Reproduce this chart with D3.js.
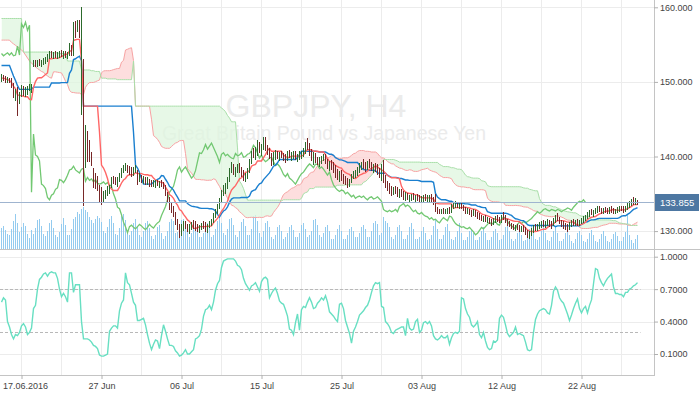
<!DOCTYPE html>
<html><head><meta charset="utf-8">
<script src="https://cdn.jsdelivr.net/npm/d3@7"></script>
<style>
body{margin:0;background:#fff;}
svg{display:block;font-family:"Liberation Sans",Arial,sans-serif;}
</style>
</head><body>
<svg id="c" width="700" height="394"></svg>
<script>
// ---- H4 bars, 15 Jun 08:00 .. 29 Aug 2016 (GBPJPY) ----
const high=[151.0,150.9,150.8,150.6,150.5,150.5,149.8,149.0,149.3,148.7,
149.6,149.5,149.3,149.4,149.7,149.7,153.0,152.9,153.0,153.1,
153.0,153.2,153.4,153.8,154.2,154.2,154.0,154.1,154.0,154.2,
154.3,154.2,154.1,154.0,155.2,155.0,158.0,158.2,158.3,158.3,
160.1,153.1,144.2,143.4,142.2,140.6,138.4,137.8,137.4,136.2,
135.9,135.4,135.5,136.0,136.2,137.2,137.4,137.2,137.3,137.8,
138.5,138.9,139.1,138.9,138.7,138.6,138.6,138.9,138.2,137.8,
137.5,137.4,137.3,137.2,137.0,136.9,136.9,136.8,136.9,136.7,
136.8,136.6,136.2,135.3,134.6,133.8,133.4,132.6,131.6,131.0,
131.0,131.3,131.4,131.0,130.9,131.2,131.5,131.3,131.0,130.8,
131.1,131.4,131.2,131.0,131.4,131.6,132.4,133.0,133.6,134.5,
135.5,136.2,136.5,137.3,138.5,139.2,139.0,138.6,139.0,139.1,
138.6,138.2,137.8,138.4,139.6,140.8,141.1,141.3,142.2,142.0,
141.7,142.6,142.6,141.6,141.2,140.5,140.6,140.9,140.8,140.6,
140.8,140.5,140.4,140.7,140.9,140.6,140.8,140.7,140.4,140.7,
140.8,141.1,142.0,142.5,141.8,141.0,140.6,140.5,140.0,139.9,
140.1,140.4,140.3,139.7,139.4,139.5,139.3,138.8,138.3,138.0,
138.2,137.7,137.4,137.1,137.0,137.6,138.0,138.2,138.6,139.1,
139.3,139.6,139.2,139.4,139.6,139.3,139.0,139.1,139.0,138.5,
139.0,139.5,137.5,136.7,136.4,136.0,135.9,136.1,135.9,135.6,
135.7,135.4,135.2,135.1,134.9,135.0,135.1,134.9,135.0,134.8,
134.7,134.9,135.0,134.8,134.9,135.0,134.6,135.0,133.2,133.0,
133.0,133.1,133.0,133.1,133.2,133.6,133.8,134.0,133.9,133.7,
133.8,133.5,133.2,133.1,133.0,132.8,132.9,132.8,132.5,132.4,
132.2,132.0,132.1,131.9,131.8,131.6,131.7,132.0,132.1,131.9,
132.2,132.5,132.1,131.6,131.3,131.1,131.0,130.8,130.9,130.8,
130.7,130.8,130.5,130.2,130.0,130.4,130.8,130.9,131.0,131.2,
131.4,131.5,131.3,131.6,131.5,131.3,131.8,132.2,132.4,131.9,
131.5,131.3,131.1,131.0,131.2,131.5,131.6,131.5,131.6,131.5,
131.8,132.0,132.2,132.5,132.8,133.0,132.8,133.1,133.3,133.4,
133.1,133.1,133.2,133.1,133.2,133.3,133.1,133.0,133.2,133.3,
133.4,133.3,133.4,133.7,134.0,134.3,134.6,134.4,134.2];
const low=[150.1,150.2,149.9,149.9,149.9,149.3,147.9,147.5,145.5,147.1,
148.1,148.2,148.0,148.3,148.8,148.6,152.0,152.0,152.1,152.2,
152.1,152.3,152.5,152.8,153.1,153.3,153.2,153.3,153.2,153.3,
153.4,153.2,153.3,153.1,153.6,153.5,153.6,156.0,156.8,156.0,
145.6,133.4,138.5,139.3,139.3,138.8,135.9,135.7,135.4,134.0,
133.5,134.0,134.4,134.8,135.0,135.8,136.4,136.2,136.0,136.6,
137.2,137.8,138.1,137.8,137.6,137.3,137.5,137.8,136.3,136.7,
136.5,136.4,136.2,136.2,136.0,136.0,136.0,135.9,136.1,135.8,
136.0,135.7,134.8,134.0,132.9,132.5,131.9,130.9,130.2,129.2,
129.4,130.1,130.3,129.9,129.7,130.2,130.4,130.1,129.9,129.8,
130.2,130.4,130.0,129.8,130.5,130.7,131.2,131.8,132.4,133.0,
133.9,134.8,135.1,135.7,136.6,137.8,137.6,137.3,137.8,137.9,
137.3,136.8,136.6,137.1,137.9,139.0,139.8,139.6,140.2,140.6,
140.1,140.9,140.8,140.3,139.7,138.8,138.9,139.6,139.7,139.5,
139.8,139.4,139.2,139.4,139.8,139.5,139.7,139.6,139.3,139.6,
139.7,140.0,140.4,140.9,140.2,139.4,138.9,139.2,138.9,138.7,
139.1,139.4,139.0,138.4,138.1,138.3,137.8,137.2,136.9,136.6,
136.8,136.4,136.2,135.9,136.0,136.5,137.0,137.2,137.5,137.9,
138.2,138.4,138.0,138.2,138.5,138.1,137.9,138.0,137.6,137.2,
136.8,136.5,135.9,135.4,135.1,134.8,134.9,135.0,134.7,134.5,
134.7,134.3,134.1,134.2,134.0,134.1,134.2,134.0,134.1,133.9,
133.8,134.0,134.1,133.9,134.0,134.0,133.6,132.6,132.4,132.3,
132.4,132.3,132.3,132.4,132.4,132.5,133.0,133.1,133.1,133.0,
133.0,132.7,132.4,132.3,132.2,132.0,132.1,132.0,131.7,131.6,
131.4,131.3,131.3,131.2,131.0,130.8,130.9,131.2,131.3,131.1,
131.2,131.6,131.2,130.8,130.6,130.4,130.2,130.1,130.2,130.0,
129.9,130.0,129.6,129.2,129.0,129.4,129.8,130.1,130.1,130.3,
130.5,130.6,130.5,130.7,130.6,130.4,130.7,131.1,131.4,131.0,
130.6,130.4,130.2,130.0,130.2,130.6,130.8,130.7,130.8,130.8,
131.0,131.2,131.4,131.7,131.9,132.2,132.0,132.3,132.5,132.6,
132.4,132.4,132.5,132.4,132.4,132.5,132.4,132.3,132.5,132.6,
132.7,132.5,132.6,132.9,133.1,133.4,133.6,133.5,133.6];
const close=[150.6,150.4,150.2,150.3,150.1,149.6,148.2,148.4,147.3,148.3,
149.2,148.6,148.9,149.0,149.1,149.4,152.6,152.4,152.8,152.5,
152.7,152.9,153.1,153.5,153.9,153.6,153.8,153.5,153.7,153.9,
153.6,153.9,153.5,153.6,154.8,153.6,157.8,157.3,158.0,156.9,
157.6,135.2,143.0,140.2,140.0,139.4,136.3,136.1,135.7,134.5,
134.2,134.8,135.0,135.6,135.8,136.9,136.8,136.5,136.9,137.5,
138.2,138.3,138.7,138.2,138.0,137.8,138.3,138.4,136.7,137.2,
136.8,137.0,136.6,136.9,136.4,136.3,136.4,136.6,136.3,136.5,
136.2,136.0,135.0,134.3,133.2,133.0,132.2,131.2,130.6,129.8,
130.6,130.8,130.5,130.3,130.6,130.9,130.7,130.4,130.2,130.5,
130.9,130.6,130.4,130.8,131.1,131.3,132.1,132.7,133.3,134.2,
135.2,135.6,136.0,137.0,138.2,138.6,137.9,138.3,138.6,138.1,
137.6,137.1,137.4,138.1,139.3,140.5,140.4,140.9,141.6,141.0,
141.4,141.8,141.2,140.6,140.0,139.2,140.3,140.5,140.1,140.3,
140.0,139.8,139.7,140.4,140.1,140.2,140.5,139.9,140.0,140.3,
140.4,140.8,141.5,141.2,140.5,139.8,140.2,139.6,139.3,139.5,
139.8,139.9,139.3,138.8,139.0,138.7,138.2,137.6,137.3,137.7,
137.1,136.9,136.6,136.3,136.8,137.3,137.7,137.9,138.3,138.7,
139.0,138.8,138.5,139.0,138.9,138.4,138.6,138.3,137.9,137.5,
137.9,136.9,136.2,135.8,135.5,135.3,135.5,135.4,135.0,135.2,
134.9,134.6,134.8,134.4,134.6,134.7,134.5,134.7,134.4,134.2,
134.5,134.6,134.3,134.4,134.6,134.3,134.0,132.9,132.7,132.6,
132.8,132.6,132.7,132.9,132.6,133.3,133.5,133.7,133.3,133.5,
133.3,132.9,132.6,132.8,132.4,132.3,132.5,132.2,132.0,131.9,
131.6,131.8,131.5,131.6,131.3,131.1,131.5,131.8,131.6,131.4,
132.0,131.9,131.4,131.0,130.8,130.7,130.5,130.6,130.4,130.3,
130.5,130.2,129.9,129.5,129.7,130.1,130.5,130.3,130.6,130.9,
131.2,130.9,131.1,131.3,130.9,130.8,131.5,131.9,131.7,131.3,
130.9,130.7,130.5,130.3,130.9,131.2,131.0,131.3,131.1,131.3,
131.5,131.7,132.0,132.3,132.6,132.4,132.6,132.9,133.0,132.8,
132.7,132.9,132.8,132.7,132.9,132.8,132.6,132.8,132.9,133.1,
133.0,132.8,133.2,133.5,133.8,134.0,133.9,134.2,133.855];
const volume=[2100,2300,1900,1500,
1400,2000,2800,3500,2600,1700, 2200,2600,2300,1500,1100,1900,
1500,2100,2900,3000,2300,1500, 1300,1800,2600,2900,2100,1400,
1200,1700,2500,3100,2400,1400, 1400,2000,3000,3200,3700,3500,
4000,4200,3900,3700,3200,2900, 2600,3000,3300,3100,2700,1800,
1600,2200,3000,3300,2600,1500, 1400,2100,3400,3500,2900,1600,
1400,1800,2600,3000,2300,1400, 1200,1800,2600,2800,2100,1300,
1000,1400,2200,2400,1600,1000, 1300,1800,2700,3000,2800,1600,
1700,2200,2900,3000,2500,1800, 1200,1600,2400,2600,2000,1200,
1200,1600,2200,2600,2100,1200, 1400,2000,2800,3200,2600,1600,
1400,2000,3000,3100,2400,1400, 1200,1800,2700,3000,2300,1400,
1400,2000,3300,3400,2800,1600, 1200,1800,2600,2800,2200,1200,
1000,1400,2200,2400,1800,1000, 1200,1600,2200,2400,1900,1200,
1200,1600,2400,2600,2000,1200, 1400,1800,2900,3000,2400,1400,
1200,1600,2200,2400,1800,1000, 1000,1400,2000,2400,1800,1000,
1000,1400,2000,2200,1800,1200, 1200,1600,2200,2400,2000,1200,
1200,1800,2600,2800,2500,1400, 1600,3200,2800,2600,2200,1200,
1000,1400,2200,2400,1800,1000, 1000,1400,2200,2600,2000,1000,
1000,1200,1800,2200,1600,900, 1000,1400,2300,2900,2000,1000,
1000,1400,2200,2500,1800,1000, 900,1200,1800,2600,1600,900,
900,1200,1800,2000,1600,900, 900,1200,1800,2200,1600,900,
900,1200,1800,2000,1600,900, 1000,1400,2200,2600,1800,1000,
800,1000,1600,2000,1400,800, 900,1200,2000,2400,1800,1000,
900,1200,1800,2200,1600,900, 800,1200,1800,2200,1600,800,
800,1000,1600,2000,1400,800, 600,1000,1600,1800,1400,800,
700,1000,1600,1900,1400,800, 700,1000,1500,1800,1300,800,
700,1000,1500,1700,1300,800, 800,1200,1700,3400,1400,900,
600,1000,1400];
// lower-panel oscillator (0..1)
const osc=[.58,.62,.60,.40,.35,.28,.24,.28,.27,.30,
.36,.38,.35,.28,.30,.34,.52,.55,.70,.79,
.81,.84,.85,.82,.85,.86,.85,.85,.80,.70,
.63,.66,.63,.58,.85,.85,.67,.74,.74,.74,
.40,.24,.24,.24,.23,.21,.18,.17,.15,.09,
.08,.08,.09,.10,.31,.34,.36,.36,.34,.50,
.57,.60,.85,.76,.74,.66,.58,.55,.41,.41,
.42,.43,.37,.28,.20,.14,.19,.23,.22,.15,
.27,.37,.31,.24,.18,.18,.17,.13,.11,.08,
.09,.11,.14,.10,.10,.12,.14,.24,.25,.27,
.33,.45,.51,.52,.55,.51,.58,.69,.75,.78,
.90,.96,.97,.98,.98,.98,.98,.96,.92,.91,
.88,.80,.75,.72,.69,.73,.74,.76,.72,.68,
.77,.80,.81,.79,.62,.66,.69,.71,.66,.59,
.57,.56,.51,.45,.33,.32,.28,.39,.47,.32,
.51,.54,.53,.58,.62,.58,.52,.53,.57,.59,
.62,.60,.64,.58,.49,.47,.45,.42,.40,.56,
.57,.52,.41,.35,.29,.20,.31,.35,.40,.46,
.48,.50,.53,.55,.60,.67,.73,.76,.75,.76,
.54,.53,.40,.38,.35,.30,.29,.32,.33,.34,
.35,.35,.27,.43,.34,.32,.33,.40,.42,.30,
.32,.39,.40,.38,.40,.36,.27,.24,.23,.245,
.27,.25,.25,.27,.19,.25,.29,.30,.29,.31,
.62,.61,.52,.47,.44,.37,.35,.37,.40,.28,
.25,.30,.22,.16,.14,.15,.22,.21,.23,.43,
.46,.44,.37,.29,.26,.28,.30,.35,.28,.29,
.28,.27,.21,.14,.13,.14,.30,.42,.47,.50,
.51,.52,.51,.48,.47,.55,.68,.72,.69,.62,
.59,.57,.52,.47,.41,.46,.52,.57,.61,.52,
.48,.52,.54,.48,.55,.60,.75,.89,.88,.80,
.76,.73,.77,.80,.82,.84,.72,.66,.66,.65,
.65,.63,.67,.67,.70,.71,.73,.74,.76];
// Ichimoku values at the left edge (before enough history exists)
const leadTenkan=[150.5,150.5,150.4,150.3,150.2,149.9,149.4,149.1];
const leadKijun=[152.2,152.2,152.2,152.2,152.2,151.5,150.8,150.2,149.5,149.0,
149.0,149.0,149.0,149.0,149.0,149.0,149.3,149.3,149.3,149.3,149.3,149.3,149.3,149.3,149.3];
const leadSpanA=[155.6,155.6,155.6,155.6,155.6,155.3,155.1,154.9,154.7,154.5,
154.3,154.0,153.6,153.2,152.8,152.5,152.3,152.0,151.8,151.6,151.4,151.3,151.0,150.8,150.6,150.5];
const leadSpanB=[158.5,158.5,158.5,158.5,158.5,158.5,158.5,158.5,158.5,158.5,158.5,
154.0,154.0,154.0,154.0,154.0,154.0,154.0,154.0,154.0,154.0,154.0,
154.0,154.0,154.0,153.9,153.9,153.9,153.9,153.8,153.8,153.8,153.8,
152.8,152.8,152.8,152.8,152.8,152.8,152.8,
151.6,151.6,151.6,151.6,151.6,151.5,151.5,151.4,151.4,151.4,
150.5,150.5,150.5,150.4,150.4,150.4,150.4,150.4,150.3,150.3,150.3,150.3,150.3,150.3,150.3,150.3];
const priceTicks=[160,150,140,130];
const oscTicks=[1.0,0.7,0.4,0.1];
const oscLevels=[0.7,0.3];
const dateTickIndex=[10,50,90,130,170,210,250,290];
const dateTickLabels=["17.06.2016","27 Jun","06 Jul","15 Jul","25 Jul","03 Aug","12 Aug","22 Aug"];
const lastPrice=133.855;
const title="GBPJPY, H4", subtitle="Great Britain Pound vs Japanese Yen";

// ---- derived series (standard Ichimoku 9/26/52) ----
const N=close.length, idx=d3.range(N);
const open=idx.map(i=>i===0?close[0]:close[i-1]);
function mid(i,n){const a=Math.max(0,i-n+1);let hh=-Infinity,ll=Infinity;
  for(let k=a;k<=i;k++){if(high[k]>hh)hh=high[k];if(low[k]<ll)ll=low[k];}return (hh+ll)/2;}
const tenkan=idx.map(i=>i<leadTenkan.length?leadTenkan[i]:mid(i,9));
const kijun=idx.map(i=>i<leadKijun.length?leadKijun[i]:mid(i,26));
const spanA=idx.map(i=>i<leadSpanA.length?leadSpanA[i]:(tenkan[i-26]+kijun[i-26])/2);
const spanB=idx.map(i=>i<leadSpanB.length?leadSpanB[i]:mid(i-26,52));
const chikouIdx=d3.range(N-26);

// ---- layout ----
const svg=d3.select("#c");
const plotR=654, mainBot=249, oscBot=375;
const x=d3.scaleLinear().domain([0,N-1]).range([1.5,1.5+2*(N-1)]);
const y=d3.scaleLinear().domain([130,160]).range([231.1,7.3]);
const yVol=d3.scaleLinear().domain([0,5000]).range([mainBot,mainBot-50]);
const yOsc=d3.scaleLinear().domain([0.1,1]).range([354,256.7]);

const defs=svg.append("defs");
defs.append("clipPath").attr("id","mainClip").append("rect").attr("x",0).attr("y",0).attr("width",plotR).attr("height",mainBot);
defs.append("clipPath").attr("id","oscClip").append("rect").attr("x",0).attr("y",mainBot+1).attr("width",plotR).attr("height",oscBot-mainBot-1);
defs.append("clipPath").attr("id","aboveA").append("path")
  .attr("d",d3.area().x(i=>x(i)).y0(0).y1(i=>y(spanA[i]))(idx));
defs.append("clipPath").attr("id","belowA").append("path")
  .attr("d",d3.area().x(i=>x(i)).y0(i=>y(spanA[i])).y1(mainBot)(idx));

// grid
const grid=svg.append("g").attr("stroke","#ececec").attr("stroke-width",1).attr("shape-rendering","crispEdges");
grid.selectAll(".vg").data(d3.range(10,N,20)).join("line")
  .attr("x1",d=>x(d)).attr("x2",d=>x(d)).attr("y1",0).attr("y2",oscBot);
grid.selectAll(".hg").data(priceTicks).join("line")
  .attr("x1",0).attr("x2",plotR).attr("y1",d=>Math.round(y(d))+0.5).attr("y2",d=>Math.round(y(d))+0.5);
grid.selectAll(".og").data(oscTicks).join("line")
  .attr("x1",0).attr("x2",plotR).attr("y1",d=>Math.round(yOsc(d))+0.5).attr("y2",d=>Math.round(yOsc(d))+0.5);

// watermark
const wm=svg.append("g").attr("fill","#ebebeb").attr("text-anchor","middle");
wm.append("text").attr("x",316).attr("y",117).attr("font-size",32).text(title);
wm.append("text").attr("x",324).attr("y",140).attr("font-size",19.5).text(subtitle);

const main=svg.append("g").attr("clip-path","url(#mainClip)");
// volume
main.append("g").attr("stroke","#93cbef").attr("shape-rendering","crispEdges")
  .selectAll("line").data(idx).join("line")
  .attr("x1",i=>x(i)).attr("x2",i=>x(i)).attr("y1",mainBot).attr("y2",i=>yVol(volume[i]));
// cloud fills
const band=d3.area().x(i=>x(i)).y0(i=>y(spanA[i])).y1(i=>y(spanB[i]));
main.append("g").attr("clip-path","url(#aboveA)").append("path").attr("d",band(idx)).attr("fill","#dff5df").attr("fill-opacity",0.75);
main.append("g").attr("clip-path","url(#belowA)").append("path").attr("d",band(idx)).attr("fill","#fcd6d6").attr("fill-opacity",0.8);
const ln=(arr)=>d3.line().x(i=>x(i)).y(i=>y(arr[i]));
main.append("path").attr("d",ln(spanA)(idx)).attr("fill","none").attr("stroke","#f7a3a3").attr("stroke-width",1);
main.append("path").attr("d",ln(spanB)(idx)).attr("fill","none").attr("stroke","#a9dfa9").attr("stroke-width",1);
// last price line
svg.append("line").attr("x1",0).attr("x2",plotR+1).attr("y1",Math.round(y(lastPrice))+0.5).attr("y2",Math.round(y(lastPrice))+0.5)
  .attr("stroke","#9fb4cf").attr("stroke-width",1);
// chikou, kijun, tenkan
main.append("path").attr("d",d3.line().x(i=>x(i)).y(i=>y(close[i+26]))(chikouIdx)).attr("fill","none").attr("stroke","#72c872").attr("stroke-width",1.3);
main.append("path").attr("d",ln(kijun)(idx)).attr("fill","none").attr("stroke","#1a7fcf").attr("stroke-width",1.4);
main.append("path").attr("d",ln(tenkan)(idx)).attr("fill","none").attr("stroke","#ff6666").attr("stroke-width",1.4);
// OHLC bars
main.append("g").attr("shape-rendering","crispEdges").selectAll("line").data(idx).join("line")
  .attr("x1",i=>x(i)).attr("x2",i=>x(i)).attr("y1",i=>y(high[i])).attr("y2",i=>y(low[i])+0.5)
  .attr("stroke",i=>close[i]>=open[i]?"#2c6a2c":"#782828").attr("stroke-width",1);

// oscillator panel
const op=svg.append("g").attr("clip-path","url(#oscClip)");
op.selectAll(".lvl").data(oscLevels).join("line")
  .attr("x1",0).attr("x2",x(N-1)+3).attr("y1",d=>Math.round(yOsc(d))+0.5).attr("y2",d=>Math.round(yOsc(d))+0.5)
  .attr("stroke","#b8b8b8").attr("stroke-dasharray","3,2");
op.append("path").attr("d",d3.line().x(i=>x(i)).y(i=>yOsc(osc[i]))(idx)).attr("fill","none").attr("stroke","#68dfc2").attr("stroke-width",1.4);

// frame
const fr=svg.append("g").attr("stroke","#c4c4c4").attr("shape-rendering","crispEdges");
fr.append("line").attr("x1",plotR+0.5).attr("x2",plotR+0.5).attr("y1",0).attr("y2",oscBot+0.5);
fr.append("line").attr("x1",0).attr("x2",700).attr("y1",mainBot+0.5).attr("y2",mainBot+0.5);
fr.append("line").attr("x1",0).attr("x2",plotR+0.5).attr("y1",oscBot+0.5).attr("y2",oscBot+0.5);

// axes
function styleAxis(g){g.select(".domain").remove();g.selectAll(".tick line").attr("stroke","#b0b0b0");
  g.selectAll(".tick text").attr("fill","#444").attr("font-size",9).attr("font-family","Liberation Sans, Arial, sans-serif");}
svg.append("g").attr("transform",`translate(${plotR},0)`)
  .call(d3.axisRight(y).tickValues(priceTicks).tickFormat(d3.format(".3f")).tickSize(4).tickPadding(2)).call(styleAxis);
svg.append("g").attr("transform",`translate(${plotR},0)`)
  .call(d3.axisRight(yOsc).tickValues(oscTicks).tickFormat(d3.format(".4f")).tickSize(4).tickPadding(2)).call(styleAxis);
const xa=svg.append("g").attr("transform",`translate(0,${oscBot})`)
  .call(d3.axisBottom(x).tickValues(dateTickIndex).tickFormat((d,i)=>dateTickLabels[i]).tickSize(4).tickPadding(4)).call(styleAxis);
xa.select(".tick text").attr("text-anchor","start").attr("x",-19);

// last price tag
const tag=svg.append("g");
tag.append("rect").attr("x",plotR+1).attr("y",Math.round(y(lastPrice))-8).attr("width",44).attr("height",17).attr("fill","#4d77a2");
tag.append("text").attr("x",plotR+6).attr("y",Math.round(y(lastPrice))+4).attr("fill","#fff").attr("font-size",9.5).text(d3.format(".3f")(lastPrice));
</script>
</body></html>
